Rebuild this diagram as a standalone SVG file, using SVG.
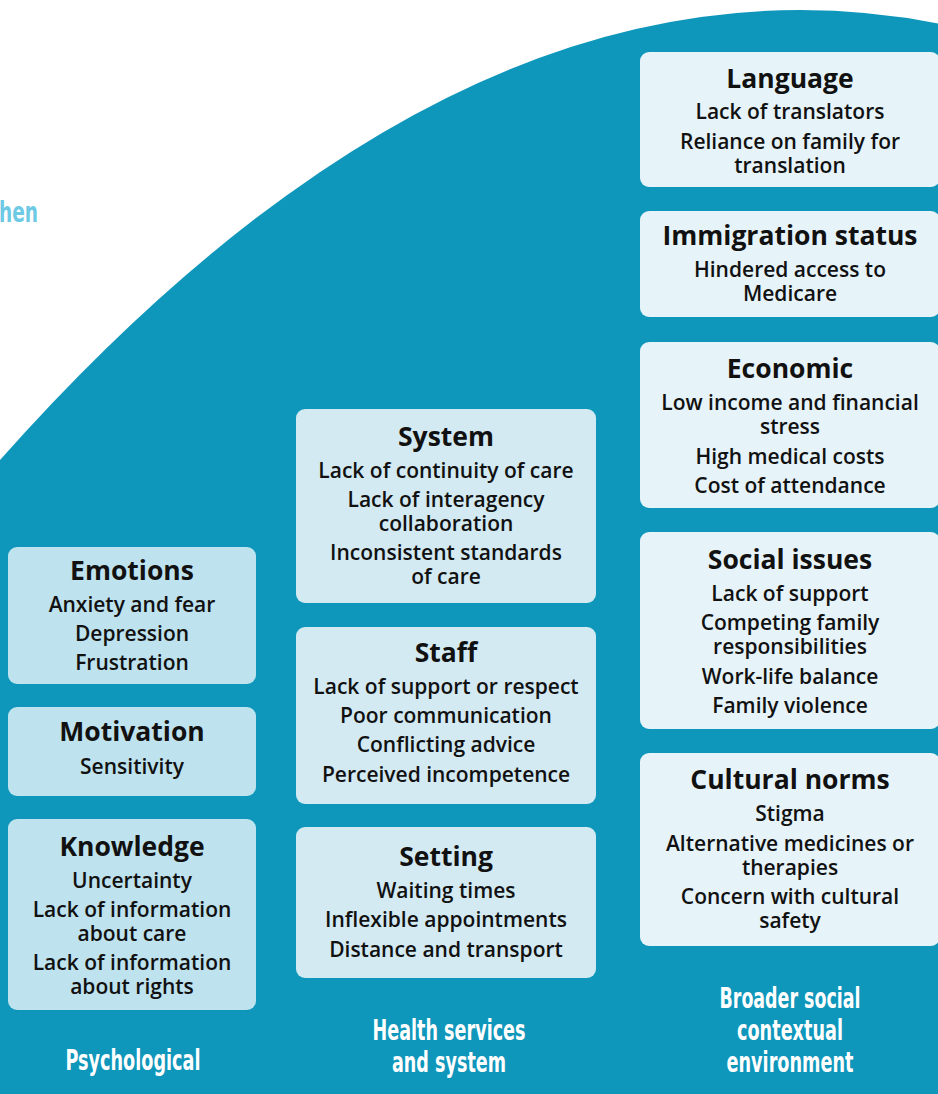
<svg xmlns="http://www.w3.org/2000/svg" width="938" height="1094" viewBox="0 0 938 1094">
  <style>
    .band { fill: #0f96bb; }
    .c1 { fill: #bee2ee; }
    .c2 { fill: #d3eaf3; }
    .c3 { fill: #e6f3f9; }
    .ttl { font-family: "Open Sans", "Noto Sans", sans-serif; font-weight: 700; font-size: 26.5px; fill: #111; text-anchor: middle; }
    .itm { font-family: "Open Sans", "Noto Sans", sans-serif; font-weight: 600; font-size: 21px; fill: #111; text-anchor: middle; }
    .foot { font-family: "DejaVu Sans Condensed", "DejaVu Sans", sans-serif; font-weight: 700; font-size: 29px; fill: #ffffff; text-anchor: middle; }
    .head { font-family: "DejaVu Sans Condensed", "DejaVu Sans", sans-serif; font-weight: 700; font-size: 29px; fill: #6ccae4; }
  </style>

  <rect x="0" y="0" width="938" height="1094" fill="#ffffff"/>

  <!-- partial heading at the left edge -->
  <text class="head" x="-1" y="222" textLength="39" lengthAdjust="spacingAndGlyphs">hen</text>

  <!-- large curved teal backdrop (parabolic arch, apex near x=800) -->
  <path class="band" d="M0,1094 L0,460 Q800,-440 1600,460 L1600,1094 Z"/>

  <!-- Psychological column -->
  <g id="emotions">
    <rect class="c1" x="8" y="547" width="248" height="137" rx="9"/>
    <text class="ttl" x="132" y="580">Emotions</text>
    <text class="itm" x="132" y="612">Anxiety and fear</text>
    <text class="itm" x="132" y="641">Depression</text>
    <text class="itm" x="132" y="670">Frustration</text>
  </g>
  <g id="motivation">
    <rect class="c1" x="8" y="707" width="248" height="89" rx="9"/>
    <text class="ttl" x="132" y="741">Motivation</text>
    <text class="itm" x="132" y="774">Sensitivity</text>
  </g>
  <g id="knowledge">
    <rect class="c1" x="8" y="819" width="248" height="191" rx="9"/>
    <text class="ttl" x="132" y="856">Knowledge</text>
    <text class="itm" x="132" y="888">Uncertainty</text>
    <text class="itm" x="132" y="917">Lack of information</text>
    <text class="itm" x="132" y="941">about care</text>
    <text class="itm" x="132" y="970">Lack of information</text>
    <text class="itm" x="132" y="994">about rights</text>
  </g>

  <!-- Health services column -->
  <g id="system">
    <rect class="c2" x="296" y="409" width="300" height="194" rx="9"/>
    <text class="ttl" x="446" y="446">System</text>
    <text class="itm" x="446" y="478">Lack of continuity of care</text>
    <text class="itm" x="446" y="507">Lack of interagency</text>
    <text class="itm" x="446" y="531">collaboration</text>
    <text class="itm" x="446" y="560">Inconsistent standards</text>
    <text class="itm" x="446" y="584">of care</text>
  </g>
  <g id="staff">
    <rect class="c2" x="296" y="627" width="300" height="177" rx="9"/>
    <text class="ttl" x="446" y="662">Staff</text>
    <text class="itm" x="446" y="694">Lack of support or respect</text>
    <text class="itm" x="446" y="723">Poor communication</text>
    <text class="itm" x="446" y="752">Conflicting advice</text>
    <text class="itm" x="446" y="782">Perceived incompetence</text>
  </g>
  <g id="setting">
    <rect class="c2" x="296" y="827" width="300" height="151" rx="9"/>
    <text class="ttl" x="446" y="866">Setting</text>
    <text class="itm" x="446" y="898">Waiting times</text>
    <text class="itm" x="446" y="927">Inflexible appointments</text>
    <text class="itm" x="446" y="957">Distance and transport</text>
  </g>

  <!-- Broader social column -->
  <g id="language">
    <rect class="c3" x="640" y="52" width="300" height="135" rx="9"/>
    <text class="ttl" x="790" y="88">Language</text>
    <text class="itm" x="790" y="119">Lack of translators</text>
    <text class="itm" x="790" y="149">Reliance on family for</text>
    <text class="itm" x="790" y="173">translation</text>
  </g>
  <g id="immigration">
    <rect class="c3" x="640" y="211" width="300" height="106" rx="9"/>
    <text class="ttl" x="790" y="245">Immigration status</text>
    <text class="itm" x="790" y="277">Hindered access to</text>
    <text class="itm" x="790" y="301">Medicare</text>
  </g>
  <g id="economic">
    <rect class="c3" x="640" y="342" width="300" height="166" rx="9"/>
    <text class="ttl" x="790" y="378">Economic</text>
    <text class="itm" x="790" y="410">Low income and financial</text>
    <text class="itm" x="790" y="434">stress</text>
    <text class="itm" x="790" y="464">High medical costs</text>
    <text class="itm" x="790" y="493">Cost of attendance</text>
  </g>
  <g id="social">
    <rect class="c3" x="640" y="532" width="300" height="197" rx="9"/>
    <text class="ttl" x="790" y="569">Social issues</text>
    <text class="itm" x="790" y="601">Lack of support</text>
    <text class="itm" x="790" y="630">Competing family</text>
    <text class="itm" x="790" y="654">responsibilities</text>
    <text class="itm" x="790" y="684">Work-life balance</text>
    <text class="itm" x="790" y="713">Family violence</text>
  </g>
  <g id="cultural">
    <rect class="c3" x="640" y="753" width="300" height="193" rx="9"/>
    <text class="ttl" x="790" y="789">Cultural norms</text>
    <text class="itm" x="790" y="821">Stigma</text>
    <text class="itm" x="790" y="851">Alternative medicines or</text>
    <text class="itm" x="790" y="875">therapies</text>
    <text class="itm" x="790" y="904">Concern with cultural</text>
    <text class="itm" x="790" y="928">safety</text>
  </g>

  <!-- column labels -->
  <g id="labels">
    <text class="foot" x="133" y="1070" textLength="135" lengthAdjust="spacingAndGlyphs">Psychological</text>
    <text class="foot" x="449" y="1040" textLength="153" lengthAdjust="spacingAndGlyphs">Health services</text>
    <text class="foot" x="449" y="1072" textLength="114" lengthAdjust="spacingAndGlyphs">and system</text>
    <text class="foot" x="790" y="1008" textLength="141" lengthAdjust="spacingAndGlyphs">Broader social</text>
    <text class="foot" x="790" y="1040" textLength="106" lengthAdjust="spacingAndGlyphs">contextual</text>
    <text class="foot" x="790" y="1072" textLength="127" lengthAdjust="spacingAndGlyphs">environment</text>
  </g>

  <!-- no connectors in this layout -->
  <g id="connectors"/>
</svg>
